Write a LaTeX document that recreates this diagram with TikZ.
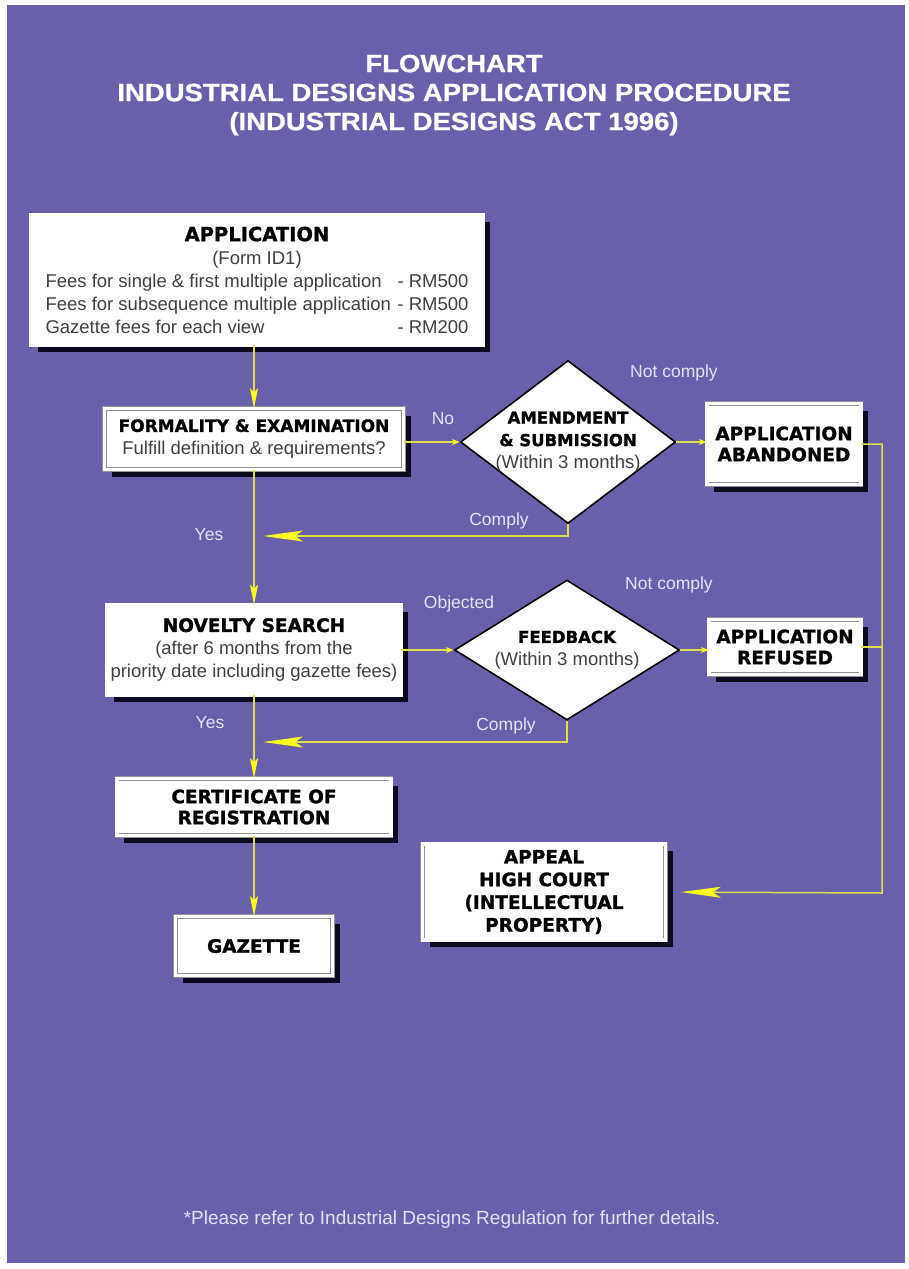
\documentclass[tikz,border=0pt]{standalone}
\usepackage{fontspec}
\setmainfont{Liberation Sans}
\newfontfamily\heavyfont{DejaVu Sans}[BoldFeatures={FakeBold=1.3}]
\newfontfamily\titlefont{Liberation Sans}[FakeStretch=1.1, BoldFeatures={FakeBold=0.8}]
\usepackage{tikz}
\usetikzlibrary{positioning}
\usetikzlibrary{arrows.meta,shapes.geometric,shadows}
\definecolor{bgc}{RGB}{104,96,170}
\definecolor{flowc}{RGB}{222,222,72}
\definecolor{headc}{RGB}{250,250,30}
\definecolor{shadowc}{RGB}{12,10,30}
\definecolor{lblc}{RGB}{226,226,244}
\newcommand{\hd}[2][18.5]{{\heavyfont\bfseries\color{black}\fontsize{#1}{23}\selectfont #2}}

\begin{document}
\begin{tikzpicture}[x=1pt, y=-1pt,
  box/.style = {draw=gray!85, line width=0.7pt, double=white, double distance=3.2pt, fill=white, inner sep=0pt, align=center, text=black!75, font=\fontsize{18.5}{23}\selectfont, drop shadow={shadow xshift=7pt, shadow yshift=-7pt, opacity=1, fill=shadowc}},
  hbox/.style = {box, text=black, font=\heavyfont\bfseries\fontsize{18.5}{21}\selectfont},
  decision/.style = {diamond, draw=black, line width=1.6pt, fill=white, inner sep=0pt},
  dtext/.style = {align=center, inner sep=0pt, text=black!75, font=\fontsize{18.5}{22.5}\selectfont},
  lbl/.style = {text=lblc, inner sep=0pt, font=\fontsize{17.5}{20}\selectfont},
  flow/.style = {draw=flowc, line width=1.5pt},
  shorthead/.style = {-{Stealth[length=8pt, width=6pt, color=headc]}},
  midhead/.style = {-{Stealth[length=20pt, width=8pt, inset=4pt, color=headc]}},
  longhead/.style = {-{Stealth[length=40pt, width=11pt, inset=8pt, color=headc]}}]
  \useasboundingbox (0,0) rectangle (908,1269);
  \fill[white] (0,0) rectangle (908,1269);
  \fill[bgc] (7,5) rectangle (905,1263);
  % title
  \node[text=white, align=center, font=\titlefont\bfseries\fontsize{25}{29}\selectfont] (title) at (454,95) {FLOWCHART\\INDUSTRIAL DESIGNS APPLICATION PROCEDURE\\(INDUSTRIAL DESIGNS ACT 1996)};
  % main column
  \node[box, minimum width=452pt, minimum height=130pt] (app) at (257,280) {\hd[19.5]{APPLICATION}\\(Form ID1)\\\makebox[423pt]{Fees for single \& first multiple application\hfill- RM500}\\\makebox[423pt]{Fees for subsequence multiple application\hfill- RM500}\\\makebox[423pt]{Gazette fees for each view\hfill- RM200}};
  \node[box, minimum width=299pt, minimum height=61pt] (form) at (254,439) {\hd[17]{FORMALITY \& EXAMINATION}\\Fulfill definition \& requirements?};
  \node[box, minimum width=294pt, minimum height=90pt] (novel) at (254,650) {\hd{NOVELTY SEARCH}\\(after 6 months from the\\priority date including gazette fees)};
  \node[hbox, minimum width=274pt, minimum height=57pt] (cert) at (254,807) {CERTIFICATE OF\\REGISTRATION};
  \node[hbox, minimum width=157pt, minimum height=59pt] (gaz) at (254,946) {GAZETTE};
  % decisions
  \node[decision, minimum width=215pt, minimum height=163pt, label={[dtext]center:{\hd[16.5]{AMENDMENT}\\\hd[16.5]{\& SUBMISSION}\\(Within 3 months)}}] (amend) at (568,442) {};
  \node[decision, minimum width=225pt, minimum height=140pt, label={[dtext]center:{\hd[16.5]{FEEDBACK}\\(Within 3 months)}}] (feed) at (567,650) {};
  % outcomes
  \node[hbox, minimum width=154pt, minimum height=81pt] (aband) at (784,444) {APPLICATION\\ABANDONED};
  \node[hbox, minimum width=152pt, minimum height=55pt] (refus) at (785,647) {APPLICATION\\REFUSED};
  \node[hbox, minimum width=243pt, minimum height=96pt, font=\heavyfont\bfseries\fontsize{18.5}{22.7}\selectfont] (appeal) at (544,892) {APPEAL\\HIGH COURT\\(INTELLECTUAL\\PROPERTY)};
  % labels
  \node[lbl] (no) at (443,419) {No};
  \node[lbl] (nc1) at (674,373) {Not comply};
  \node[lbl] (c1) at (499,521) {Comply};
  \node[lbl] (yes1) at (209,535) {Yes};
  \node[lbl] (obj) at (459,604) {Objected};
  \node[lbl] (nc2) at (669,585) {Not comply};
  \node[lbl] (c2) at (506,726) {Comply};
  \node[lbl] (yes2) at (210,723) {Yes};
  \node[lbl, font=\fontsize{19}{22}\selectfont] (note) at (452,1220) {*Please refer to Industrial Designs Regulation for further details.};
  \coordinate (rail) at (882,893);
  \coordinate (back1) at (263,536);
  \coordinate (back2) at (263,742);
  % connectors
  \draw[flow, midhead] (form.north |- app.south) -- (form.north);
  \draw[flow, shorthead] (amend.west -| form.east) -- (amend.west);
  \draw[flow, shorthead] (amend.east) -- (amend.east -| aband.west);
  \draw[flow, longhead] (amend.south) |- (back1);
  \draw[flow, midhead] (form.south) -- (novel.north);
  \draw[flow, shorthead] (novel.east) -- (feed.west);
  \draw[flow, shorthead] (feed.east) -- (feed.east -| refus.west);
  \draw[flow, longhead] (feed.south) |- (back2);
  \draw[flow, midhead] (novel.south) -- (cert.north);
  \draw[flow, midhead] (cert.south) -- (gaz.north);
  \draw[flow] (refus.east) -- (refus.east -| rail);
  \draw[flow, longhead, shorten >=15pt] (aband.east) -| (rail) -- (appeal.east);
\end{tikzpicture}
\end{document}
